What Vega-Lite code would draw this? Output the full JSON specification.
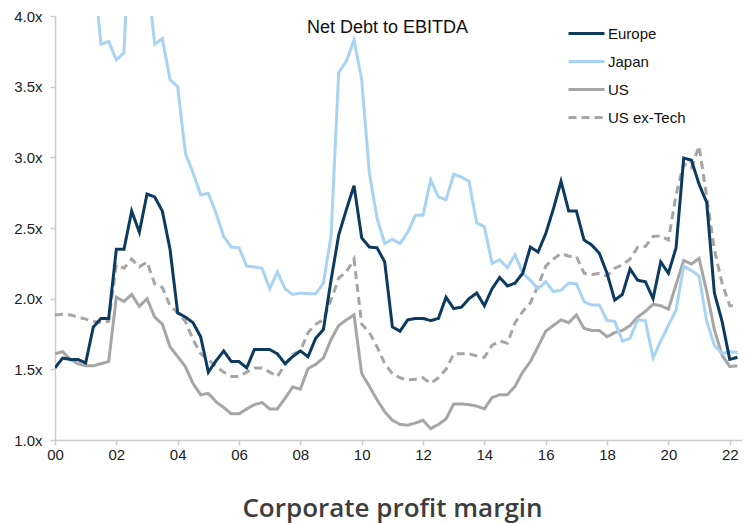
{
  "$schema": "https://vega.github.io/schema/vega-lite/v6.json",
  "autosize": {"type": "none"},
  "padding": {"left": 55, "top": 16, "right": 6, "bottom": 83},
  "width": 687,
  "height": 424,
  "background": "#ffffff",
  "title": {
    "text": "Net Debt to EBITDA",
    "frame": "group",
    "anchor": "middle",
    "dx": -11,
    "offset": -42,
    "baseline": "alphabetic",
    "font": "Liberation Sans",
    "fontSize": 18,
    "fontWeight": "normal",
    "color": "#111111"
  },
  "config": {
    "view": {"stroke": null},
    "axis": {
      "grid": false,
      "domainColor": "#cccccc",
      "domainWidth": 1.5,
      "tickColor": "#cccccc",
      "tickWidth": 1.5,
      "tickSize": 5,
      "labelFont": "Liberation Sans",
      "labelFontSize": 15,
      "labelColor": "#222222"
    }
  },
  "data": {
    "values": [
      {"t": 2000.00, "Europe": 1.51, "Japan": 5.0, "US": 1.61, "US ex-Tech": 1.885},
      {"t": 2000.25, "Europe": 1.58, "Japan": 5.0, "US": 1.625, "US ex-Tech": 1.89},
      {"t": 2000.50, "Europe": 1.57, "Japan": 4.9, "US": 1.57, "US ex-Tech": 1.885},
      {"t": 2000.75, "Europe": 1.57, "Japan": 4.8, "US": 1.54, "US ex-Tech": 1.87},
      {"t": 2001.00, "Europe": 1.545, "Japan": 4.6, "US": 1.525, "US ex-Tech": 1.855},
      {"t": 2001.25, "Europe": 1.80, "Japan": 4.35, "US": 1.525, "US ex-Tech": 1.84},
      {"t": 2001.50, "Europe": 1.86, "Japan": 3.80, "US": 1.54, "US ex-Tech": 1.83},
      {"t": 2001.75, "Europe": 1.86, "Japan": 3.82, "US": 1.555, "US ex-Tech": 1.84},
      {"t": 2002.00, "Europe": 2.35, "Japan": 3.69, "US": 2.01, "US ex-Tech": 2.24},
      {"t": 2002.25, "Europe": 2.35, "Japan": 3.74, "US": 1.98, "US ex-Tech": 2.215},
      {"t": 2002.50, "Europe": 2.62, "Japan": 5.0, "US": 2.03, "US ex-Tech": 2.28},
      {"t": 2002.75, "Europe": 2.47, "Japan": 4.9, "US": 1.945, "US ex-Tech": 2.225},
      {"t": 2003.00, "Europe": 2.74, "Japan": 4.3, "US": 2.00, "US ex-Tech": 2.26},
      {"t": 2003.25, "Europe": 2.72, "Japan": 3.80, "US": 1.87, "US ex-Tech": 2.105},
      {"t": 2003.50, "Europe": 2.62, "Japan": 3.84, "US": 1.82, "US ex-Tech": 2.08},
      {"t": 2003.75, "Europe": 2.35, "Japan": 3.55, "US": 1.66, "US ex-Tech": 1.95},
      {"t": 2004.00, "Europe": 1.90, "Japan": 3.50, "US": 1.59, "US ex-Tech": 1.90},
      {"t": 2004.25, "Europe": 1.87, "Japan": 3.03, "US": 1.52, "US ex-Tech": 1.84},
      {"t": 2004.50, "Europe": 1.83, "Japan": 2.89, "US": 1.40, "US ex-Tech": 1.71},
      {"t": 2004.75, "Europe": 1.73, "Japan": 2.735, "US": 1.32, "US ex-Tech": 1.61},
      {"t": 2005.00, "Europe": 1.48, "Japan": 2.745, "US": 1.33, "US ex-Tech": 1.57},
      {"t": 2005.25, "Europe": 1.56, "Japan": 2.605, "US": 1.27, "US ex-Tech": 1.52},
      {"t": 2005.50, "Europe": 1.63, "Japan": 2.44, "US": 1.23, "US ex-Tech": 1.48},
      {"t": 2005.75, "Europe": 1.555, "Japan": 2.365, "US": 1.185, "US ex-Tech": 1.45},
      {"t": 2006.00, "Europe": 1.555, "Japan": 2.36, "US": 1.185, "US ex-Tech": 1.45},
      {"t": 2006.25, "Europe": 1.51, "Japan": 2.23, "US": 1.22, "US ex-Tech": 1.48},
      {"t": 2006.50, "Europe": 1.64, "Japan": 2.225, "US": 1.25, "US ex-Tech": 1.51},
      {"t": 2006.75, "Europe": 1.64, "Japan": 2.215, "US": 1.265, "US ex-Tech": 1.51},
      {"t": 2007.00, "Europe": 1.64, "Japan": 2.07, "US": 1.22, "US ex-Tech": 1.48},
      {"t": 2007.25, "Europe": 1.61, "Japan": 2.19, "US": 1.22, "US ex-Tech": 1.45},
      {"t": 2007.50, "Europe": 1.54, "Japan": 2.07, "US": 1.295, "US ex-Tech": 1.53},
      {"t": 2007.75, "Europe": 1.59, "Japan": 2.03, "US": 1.375, "US ex-Tech": 1.605},
      {"t": 2008.00, "Europe": 1.63, "Japan": 2.04, "US": 1.36, "US ex-Tech": 1.63},
      {"t": 2008.25, "Europe": 1.59, "Japan": 2.035, "US": 1.505, "US ex-Tech": 1.76},
      {"t": 2008.50, "Europe": 1.72, "Japan": 2.035, "US": 1.535, "US ex-Tech": 1.82},
      {"t": 2008.75, "Europe": 1.78, "Japan": 2.11, "US": 1.58, "US ex-Tech": 1.85},
      {"t": 2009.00, "Europe": 2.13, "Japan": 2.44, "US": 1.71, "US ex-Tech": 1.99},
      {"t": 2009.25, "Europe": 2.45, "Japan": 3.60, "US": 1.81, "US ex-Tech": 2.145},
      {"t": 2009.50, "Europe": 2.63, "Japan": 3.68, "US": 1.85, "US ex-Tech": 2.19},
      {"t": 2009.75, "Europe": 2.80, "Japan": 3.83, "US": 1.885, "US ex-Tech": 2.28},
      {"t": 2010.00, "Europe": 2.43, "Japan": 3.55, "US": 1.47, "US ex-Tech": 1.82},
      {"t": 2010.25, "Europe": 2.365, "Japan": 2.89, "US": 1.38, "US ex-Tech": 1.76},
      {"t": 2010.50, "Europe": 2.36, "Japan": 2.57, "US": 1.285, "US ex-Tech": 1.66},
      {"t": 2010.75, "Europe": 2.26, "Japan": 2.39, "US": 1.20, "US ex-Tech": 1.54},
      {"t": 2011.00, "Europe": 1.80, "Japan": 2.42, "US": 1.14, "US ex-Tech": 1.47},
      {"t": 2011.25, "Europe": 1.77, "Japan": 2.39, "US": 1.11, "US ex-Tech": 1.44},
      {"t": 2011.50, "Europe": 1.85, "Japan": 2.47, "US": 1.105, "US ex-Tech": 1.425},
      {"t": 2011.75, "Europe": 1.86, "Japan": 2.59, "US": 1.12, "US ex-Tech": 1.43},
      {"t": 2012.00, "Europe": 1.86, "Japan": 2.59, "US": 1.14, "US ex-Tech": 1.44},
      {"t": 2012.25, "Europe": 1.845, "Japan": 2.84, "US": 1.08, "US ex-Tech": 1.40},
      {"t": 2012.50, "Europe": 1.86, "Japan": 2.72, "US": 1.11, "US ex-Tech": 1.44},
      {"t": 2012.75, "Europe": 2.01, "Japan": 2.70, "US": 1.15, "US ex-Tech": 1.50},
      {"t": 2013.00, "Europe": 1.93, "Japan": 2.88, "US": 1.255, "US ex-Tech": 1.61},
      {"t": 2013.25, "Europe": 1.94, "Japan": 2.86, "US": 1.255, "US ex-Tech": 1.61},
      {"t": 2013.50, "Europe": 2.00, "Japan": 2.83, "US": 1.25, "US ex-Tech": 1.61},
      {"t": 2013.75, "Europe": 2.04, "Japan": 2.535, "US": 1.24, "US ex-Tech": 1.595},
      {"t": 2014.00, "Europe": 1.95, "Japan": 2.51, "US": 1.22, "US ex-Tech": 1.585},
      {"t": 2014.25, "Europe": 2.07, "Japan": 2.25, "US": 1.30, "US ex-Tech": 1.67},
      {"t": 2014.50, "Europe": 2.15, "Japan": 2.275, "US": 1.32, "US ex-Tech": 1.70},
      {"t": 2014.75, "Europe": 2.09, "Japan": 2.22, "US": 1.32, "US ex-Tech": 1.685},
      {"t": 2015.00, "Europe": 2.11, "Japan": 2.31, "US": 1.38, "US ex-Tech": 1.83},
      {"t": 2015.25, "Europe": 2.18, "Japan": 2.18, "US": 1.48, "US ex-Tech": 1.91},
      {"t": 2015.50, "Europe": 2.365, "Japan": 2.13, "US": 1.555, "US ex-Tech": 1.97},
      {"t": 2015.75, "Europe": 2.33, "Japan": 2.07, "US": 1.66, "US ex-Tech": 2.09},
      {"t": 2016.00, "Europe": 2.46, "Japan": 2.12, "US": 1.77, "US ex-Tech": 2.23},
      {"t": 2016.25, "Europe": 2.635, "Japan": 2.05, "US": 1.81, "US ex-Tech": 2.28},
      {"t": 2016.50, "Europe": 2.83, "Japan": 2.06, "US": 1.85, "US ex-Tech": 2.32},
      {"t": 2016.75, "Europe": 2.62, "Japan": 2.11, "US": 1.83, "US ex-Tech": 2.30},
      {"t": 2017.00, "Europe": 2.62, "Japan": 2.105, "US": 1.885, "US ex-Tech": 2.30},
      {"t": 2017.25, "Europe": 2.415, "Japan": 1.98, "US": 1.79, "US ex-Tech": 2.18},
      {"t": 2017.50, "Europe": 2.38, "Japan": 1.955, "US": 1.775, "US ex-Tech": 2.17},
      {"t": 2017.75, "Europe": 2.32, "Japan": 1.955, "US": 1.775, "US ex-Tech": 2.18},
      {"t": 2018.00, "Europe": 2.18, "Japan": 1.845, "US": 1.73, "US ex-Tech": 2.16},
      {"t": 2018.25, "Europe": 1.99, "Japan": 1.84, "US": 1.76, "US ex-Tech": 2.215},
      {"t": 2018.50, "Europe": 2.03, "Japan": 1.70, "US": 1.775, "US ex-Tech": 2.24},
      {"t": 2018.75, "Europe": 2.21, "Japan": 1.72, "US": 1.81, "US ex-Tech": 2.28},
      {"t": 2019.00, "Europe": 2.13, "Japan": 1.85, "US": 1.87, "US ex-Tech": 2.365},
      {"t": 2019.25, "Europe": 2.12, "Japan": 1.845, "US": 1.91, "US ex-Tech": 2.37},
      {"t": 2019.50, "Europe": 2.00, "Japan": 1.58, "US": 1.96, "US ex-Tech": 2.44},
      {"t": 2019.75, "Europe": 2.26, "Japan": 1.70, "US": 1.95, "US ex-Tech": 2.445},
      {"t": 2020.00, "Europe": 2.18, "Japan": 1.81, "US": 1.925, "US ex-Tech": 2.415},
      {"t": 2020.25, "Europe": 2.36, "Japan": 1.92, "US": 2.10, "US ex-Tech": 2.735},
      {"t": 2020.50, "Europe": 2.995, "Japan": 2.23, "US": 2.27, "US ex-Tech": 2.955},
      {"t": 2020.75, "Europe": 2.98, "Japan": 2.20, "US": 2.245, "US ex-Tech": 2.925},
      {"t": 2021.00, "Europe": 2.81, "Japan": 2.16, "US": 2.285, "US ex-Tech": 3.08},
      {"t": 2021.25, "Europe": 2.68, "Japan": 1.84, "US": 2.05, "US ex-Tech": 2.72},
      {"t": 2021.50, "Europe": 2.04, "Japan": 1.67, "US": 1.78, "US ex-Tech": 2.345},
      {"t": 2021.75, "Europe": 1.84, "Japan": 1.61, "US": 1.60, "US ex-Tech": 2.11},
      {"t": 2022.00, "Europe": 1.57, "Japan": 1.625, "US": 1.52, "US ex-Tech": 1.95},
      {"t": 2022.25, "Europe": 1.585, "Japan": 1.62, "US": 1.525, "US ex-Tech": 1.95}
    ]
  },
  "transform": [
    {"fold": ["US ex-Tech", "US", "Japan", "Europe"], "as": ["series", "value"]}
  ],
  "mark": {"type": "line", "clip": true, "strokeWidth": 3, "interpolate": "linear"},
  "encoding": {
    "x": {
      "field": "t",
      "type": "quantitative",
      "scale": {"domain": [2000, 2022.4], "nice": false, "zero": false},
      "axis": {
        "values": [2000, 2002, 2004, 2006, 2008, 2010, 2012, 2014, 2016, 2018, 2020, 2022],
        "labelExpr": "pad(toString(datum.value - 2000), 2, '0', 'left')",
        "labelPadding": 2,
        "labelFlush": false,
        "title": "Corporate profit margin",
        "titleFont": "Open Sans",
        "titleFontSize": 26,
        "titleFontWeight": 600,
        "titleColor": "#3d3d3d",
        "titleBaseline": "alphabetic",
        "titleAnchor": "middle",
        "titleX": 337,
        "titleY": 76
      }
    },
    "y": {
      "field": "value",
      "type": "quantitative",
      "scale": {"domain": [1, 4], "nice": false, "zero": false},
      "axis": {
        "values": [1, 1.5, 2, 2.5, 3, 3.5, 4],
        "labelExpr": "format(datum.value, '.1f') + 'x'",
        "labelPadding": 8,
        "labelFlush": false,
        "title": null
      }
    },
    "color": {
      "field": "series",
      "type": "nominal",
      "scale": {
        "domain": ["Europe", "Japan", "US", "US ex-Tech"],
        "range": ["#0d3a5f", "#a9d3f2", "#a6a6a6", "#a6a6a6"]
      },
      "legend": {
        "orient": "none",
        "legendX": 521,
        "legendY": 7,
        "title": null,
        "padding": 0,
        "symbolType": "M-2,0H2",
        "symbolSize": 324,
        "symbolStrokeWidth": 3,
        "labelOffset": 11,
        "labelFont": "Liberation Sans",
        "labelFontSize": 15,
        "labelColor": "#111111",
        "rowPadding": 9
      }
    },
    "strokeDash": {
      "field": "series",
      "type": "nominal",
      "scale": {
        "domain": ["Europe", "Japan", "US", "US ex-Tech"],
        "range": [[1, 0], [1, 0], [1, 0], [8, 5]]
      },
      "legend": {
        "orient": "none",
        "legendX": 521,
        "legendY": 7,
        "title": null,
        "padding": 0,
        "symbolType": "M-2,0H2",
        "symbolSize": 324,
        "symbolStrokeWidth": 3,
        "labelOffset": 11,
        "labelFont": "Liberation Sans",
        "labelFontSize": 15,
        "labelColor": "#111111",
        "rowPadding": 9
      }
    }
  }
}
